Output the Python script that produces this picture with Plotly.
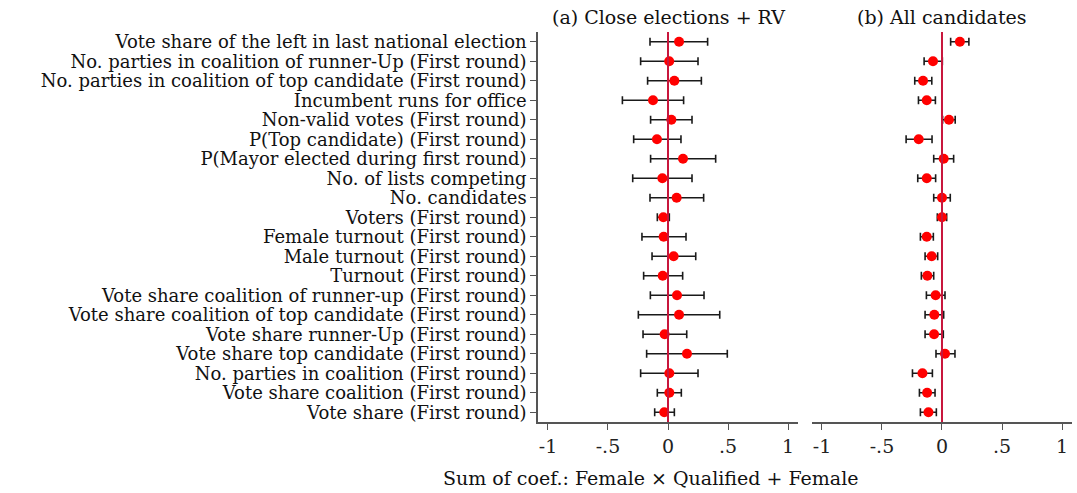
import plotly.graph_objects as go

labels = [
    "Vote share of the left in last national election",
    "No. parties in coalition of runner-Up (First round)",
    "No. parties in coalition of top candidate (First round)",
    "Incumbent runs for office",
    "Non-valid votes (First round)",
    "P(Top candidate) (First round)",
    "P(Mayor elected during first round)",
    "No. of lists competing",
    "No. candidates",
    "Voters (First round)",
    "Female turnout (First round)",
    "Male turnout (First round)",
    "Turnout (First round)",
    "Vote share coalition of runner-up (First round)",
    "Vote share coalition of top candidate (First round)",
    "Vote share runner-Up (First round)",
    "Vote share top candidate (First round)",
    "No. parties in coalition (First round)",
    "Vote share coalition (First round)",
    "Vote share (First round)",
]

# Panel (a): Close elections + RV
a_coef = [0.092, 0.010, 0.053, -0.125, 0.028, -0.092, 0.125, -0.047, 0.072, -0.039,
          -0.036, 0.047, -0.044, 0.075, 0.092, -0.028, 0.158, 0.011, 0.011, -0.031]
a_lo = [-0.150, -0.228, -0.170, -0.380, -0.145, -0.286, -0.145, -0.294, -0.150, -0.089,
        -0.217, -0.133, -0.203, -0.147, -0.247, -0.208, -0.178, -0.228, -0.089, -0.111]
a_hi = [0.330, 0.250, 0.278, 0.130, 0.200, 0.108, 0.397, 0.200, 0.297, 0.011,
        0.150, 0.231, 0.122, 0.300, 0.431, 0.156, 0.494, 0.250, 0.111, 0.053]

# Panel (b): All candidates
b_coef = [0.149, -0.075, -0.158, -0.127, 0.058, -0.194, 0.014, -0.127, 0.000, 0.000,
          -0.127, -0.086, -0.122, -0.053, -0.064, -0.066, 0.025, -0.163, -0.124, -0.113]
b_lo = [0.072, -0.149, -0.227, -0.196, 0.005, -0.299, -0.069, -0.202, -0.069, -0.039,
        -0.180, -0.141, -0.172, -0.130, -0.141, -0.141, -0.050, -0.246, -0.188, -0.180]
b_hi = [0.224, 0.003, -0.085, -0.055, 0.110, -0.083, 0.097, -0.053, 0.069, 0.039,
        -0.072, -0.036, -0.069, 0.025, 0.014, 0.011, 0.108, -0.080, -0.058, -0.047]

panel_titles = ["(a) Close elections + RV", "(b) All candidates"]
tick_vals = [-1, -0.5, 0, 0.5, 1]
tick_text = ["-1", "-.5", "0", ".5", "1"]
x_title = "Sum of coef.: Female \u00d7 Qualified + Female"

FONT = "DejaVu Serif"
FS = 19
FS_LAB = 18
rows = list(range(1, len(labels) + 1))

fig = go.Figure()

def add_panel(coef, lo, hi, xa, ya):
    plus = [h - c for h, c in zip(hi, coef)]
    minus = [c - l for c, l in zip(coef, lo)]
    fig.add_trace(go.Scatter(
        x=coef, y=rows, mode="markers", xaxis=xa, yaxis=ya,
        marker=dict(color="#ff0000", size=10),
        error_x=dict(type="data", symmetric=False, array=plus, arrayminus=minus,
                     color="#1a1a1a", thickness=1.6, width=4),
        showlegend=False, hoverinfo="skip",
    ))

add_panel(a_coef, a_lo, a_hi, "x", "y")
add_panel(b_coef, b_lo, b_hi, "x2", "y2")

xr = [-1.083, 1.083]
for xa in ["x", "x2"]:
    fig.add_shape(type="line", xref=xa, yref="y domain", x0=0, x1=0, y0=0, y1=1,
                  line=dict(color="#c8163c", width=2), layer="above")

ax_common = dict(range=xr, tickvals=tick_vals, ticktext=tick_text, showgrid=False,
                 zeroline=False, showline=True, linecolor="#555555", linewidth=1.5,
                 ticks="outside", ticklen=6, tickcolor="#555555", tickwidth=1.2,
                 automargin=False,
                 tickfont=dict(family=FONT, size=FS, color="#222222"))

fig.update_layout(
    width=1077, height=493,
    margin=dict(l=538, r=5, t=32, b=71, autoexpand=False),
    paper_bgcolor="white", plot_bgcolor="white",
    xaxis=dict(domain=[0, 0.4869], **ax_common),
    xaxis2=dict(domain=[0.5131, 1], anchor="y2", **ax_common),
    yaxis=dict(range=[20.5, 0.5], tickvals=rows, ticktext=labels, showgrid=False,
               zeroline=False, showline=True, linecolor="#555555", linewidth=1.5,
               ticks="outside", ticklen=6, tickcolor="#555555", tickwidth=1.2,
               automargin=False,
               tickfont=dict(family=FONT, size=FS_LAB, color="#111111")),
    yaxis2=dict(range=[20.5, 0.5], anchor="x2", showticklabels=False, showgrid=False,
                zeroline=False, showline=False, ticks="", automargin=False),
    annotations=[
        dict(text=panel_titles[0], xref="x", yref="paper", x=0, y=1.0,
             yanchor="bottom", yshift=2, showarrow=False,
             font=dict(family=FONT, size=FS, color="#111111")),
        dict(text=panel_titles[1], xref="x2", yref="paper", x=0, y=1.0,
             yanchor="bottom", yshift=2, showarrow=False,
             font=dict(family=FONT, size=FS, color="#111111")),
        dict(text=x_title, xref="x", yref="paper", x=-0.15, y=0,
             yanchor="top", yshift=-43, showarrow=False,
             font=dict(family=FONT, size=FS, color="#111111")),
    ],
)

fig.write_html("out.html", config={"displayModeBar": False},
               post_script="document.body.style.margin='0';")
